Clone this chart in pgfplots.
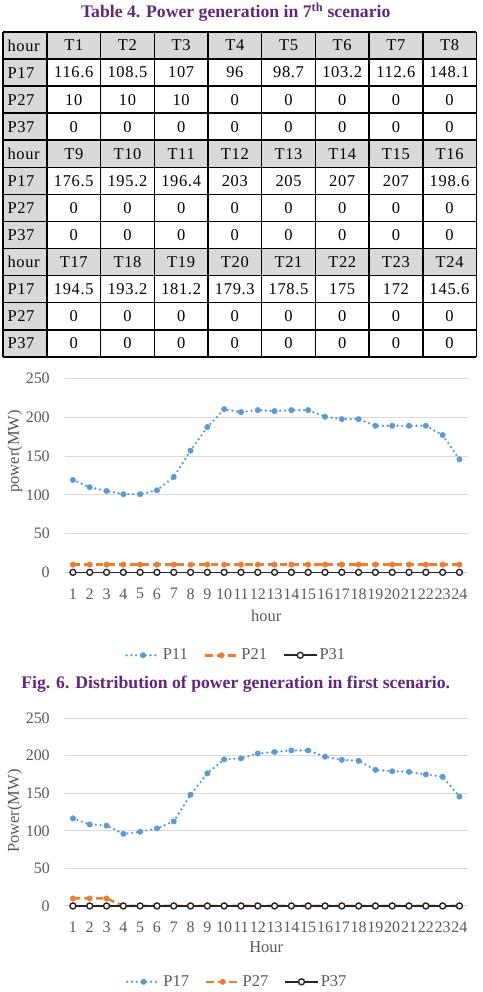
\documentclass[border=0pt]{standalone}
\usepackage{fontspec}
\setmainfont{Liberation Serif}
\newfontfamily\tabfont[LetterSpace=4]{Liberation Serif}
\usepackage{pgfplots}
\usepackage{pgfplotstable}
\pgfplotsset{compat=1.18}

\definecolor{xblue}{RGB}{91,155,213}
\definecolor{xorange}{RGB}{237,125,49}
\definecolor{xdark}{RGB}{38,38,38}
\definecolor{gridgray}{RGB}{217,217,217}
\definecolor{textgray}{RGB}{89,89,89}
\definecolor{tabgray}{RGB}{217,217,217}
\definecolor{capurple}{RGB}{96,40,122}

% hourly output, first scenario
\pgfplotstableread{
hour P11 P21 P31
1  119.2 10 0
2  109.8 10 0
3  105.0 10 0
4  100.8 10 0
5  100.8 10 0
6  105.9 10 0
7  123.0 10 0
8  157.0 10 0
9  187.4 10 0
10 210.5 10 0
11 206.7 10 0
12 209.3 10 0
13 208.0 10 0
14 209.3 10 0
15 209.3 10 0
16 200.7 10 0
17 197.7 10 0
18 197.7 10 0
19 189.1 10 0
20 189.1 10 0
21 189.1 10 0
22 189.1 10 0
23 177.1 10 0
24 145.8 10 0
}\sceneone

% hourly output, 7th scenario
\pgfplotstableread{
hour P17 P27 P37
1  116.6 10 0
2  108.5 10 0
3  107   10 0
4  96    0  0
5  98.7  0  0
6  103.2 0  0
7  112.6 0  0
8  148.1 0  0
9  176.5 0  0
10 195.2 0  0
11 196.4 0  0
12 203   0  0
13 205   0  0
14 207   0  0
15 207   0  0
16 198.6 0  0
17 194.5 0  0
18 193.2 0  0
19 181.2 0  0
20 179.3 0  0
21 178.5 0  0
22 175   0  0
23 172   0  0
24 145.6 0  0
}\sceneseven

\pgfplotsset{
  excel/.style={
    scale only axis, width=403.8pt,
    xmin=0.5, xmax=24.5, ymin=0, ymax=250,
    xtick={1,...,24}, ytick={0,50,...,250},
    axis line style={draw=none}, major tick length=0pt,
    ymajorgrids, grid style={line width=1pt, gridgray},
    tick label style={font=\fontsize{16}{16}\selectfont, text=textgray, inner sep=0pt},
    /pgf/number format/assume math mode=true,
    yticklabel style={xshift=-14.6pt},
    xticklabel style={yshift=-16pt},
    label style={font=\fontsize{16.5}{17}\selectfont, text=textgray},
    clip=false,
    legend columns=3,
    legend style={draw=none, fill=none, font=\fontsize{16.5}{17}\selectfont,
      text=textgray, anchor=center,
      /tikz/every even column/.append style={column sep=14pt}},
    legend image code/.code={
      \draw[mark repeat=2,mark phase=2] plot coordinates {(0pt,0pt) (16.5pt,0pt) (33pt,0pt)};},
  },
  sblue/.style={xblue, line width=2.6pt, line cap=round, dash pattern=on 0pt off 4.8pt,
    mark=*, mark size=2.7pt, mark options={solid, fill=xblue, draw=xblue, line width=0.5pt}},
  sorange/.style={xorange, line width=2.6pt, dash pattern=on 7.5pt off 4pt,
    mark=*, mark size=2.7pt, mark options={solid, fill=xorange, draw=xorange, line width=0.5pt}},
  sdark/.style={xdark, line width=1.6pt, mark=*, mark size=3pt,
    mark options={solid, fill=white, draw=xdark, line width=1.4pt}},
}

\begin{document}
\begin{tikzpicture}
\begin{scope}[x=1pt, y=-1pt]
  \path[use as bounding box] (0,0) rectangle (483,992);
  \node[font=\fontsize{17.7}{20}\selectfont\bfseries, text=capurple] at (236,12)
    {Table 4. Power generation in 7\textsuperscript{th} scenario};

  % shaded header rows and name column
  \foreach \b in {0,1,2}{
    \pgfmathsetmacro\ya{32+27.1*4*\b}
    \pgfmathsetmacro\yb{\ya+27.1}
    \pgfmathsetmacro\yc{\ya+4*27.1}
    \fill[tabgray] (3,\ya) rectangle (477,\yb);
    \fill[tabgray] (3,\yb) rectangle (47,\yc);
  }
  % grid of the table
  \foreach \k in {0,...,12}{
    \pgfmathsetmacro\yy{32+27.1*\k}
    \draw[line width=1.6pt] (3,\yy) -- (477,\yy);
  }
  \draw[line width=1.6pt] (3,32) -- (3,357.2);
  \foreach \j in {0,...,8}{
    \pgfmathsetmacro\xx{47+53.75*\j}
    \draw[line width=1.6pt] (\xx,32) -- (\xx,357.2);
  }
  % cell texts
  \foreach \b in {0,1,2}{
    \pgfmathsetmacro\ya{32+27.1*(4*\b+0.5)}
    \pgfmathsetmacro\yb{\ya+27.1}
    \pgfmathsetmacro\yc{\ya+2*27.1}
    \pgfmathsetmacro\yd{\ya+3*27.1}
    \node[anchor=west, font=\tabfont\fontsize{16.5}{17}\selectfont] at (4,\ya) {hour};
    \node[anchor=west, font=\tabfont\fontsize{16.5}{17}\selectfont] at (4,\yb) {P17};
    \node[anchor=west, font=\tabfont\fontsize{16.5}{17}\selectfont] at (4,\yc) {P27};
    \node[anchor=west, font=\tabfont\fontsize{16.5}{17}\selectfont] at (4,\yd) {P37};
    \foreach \c in {1,...,8}{
      \pgfmathtruncatemacro\r{8*\b+\c-1}
      \pgfmathtruncatemacro\hr{\r+1}
      \pgfmathsetmacro\xc{47+53.75*(\c-0.5)}
      \node[font=\tabfont\fontsize{16.5}{17}\selectfont] at (\xc,\ya) {T\hr};
      \pgfplotstablegetelem{\r}{P17}\of\sceneseven
      \node[font=\tabfont\fontsize{16.5}{17}\selectfont] at (\xc,\yb) {\pgfplotsretval};
      \pgfplotstablegetelem{\r}{P27}\of\sceneseven
      \node[font=\tabfont\fontsize{16.5}{17}\selectfont] at (\xc,\yc) {\pgfplotsretval};
      \pgfplotstablegetelem{\r}{P37}\of\sceneseven
      \node[font=\tabfont\fontsize{16.5}{17}\selectfont] at (\xc,\yd) {\pgfplotsretval};
    }
  }

  \node[font=\fontsize{17.7}{20}\selectfont\bfseries, text=capurple] at (236,685)
    {Fig. 6. Distribution of power generation in first scenario.};
\end{scope}

% first scenario
\begin{axis}[excel, at={(64.6pt,-573pt)}, anchor=south west, height=194pt,
  xlabel={hour}, ylabel={power(MW)},
  xlabel style={at={(rel axis cs:0.5,0)}, anchor=center, yshift=-44pt},
  ylabel style={at={(rel axis cs:-0.1228,0.624)}, anchor=center},
  legend style={at={(rel axis cs:0.4257,-0.428)}}]
  \addplot[sblue]   table[x=hour, y=P11] {\sceneone};
  \addplot[sorange] table[x=hour, y=P21] {\sceneone};
  \addplot[sdark]   table[x=hour, y=P31] {\sceneone};
  \legend{P11, P21, P31}
\end{axis}

% 7th scenario
\begin{axis}[excel, at={(64.6pt,-907pt)}, anchor=south west, height=188pt,
  xlabel={Hour}, ylabel={Power(MW)},
  xlabel style={at={(rel axis cs:0.5,0)}, anchor=center, yshift=-41pt},
  ylabel style={at={(rel axis cs:-0.1228,0.505)}, anchor=center},
  legend style={at={(rel axis cs:0.428,-0.404)}}]
  \addplot[sblue]   table[x=hour, y=P17] {\sceneseven};
  \addplot[sorange] table[x=hour, y=P27] {\sceneseven};
  \addplot[sdark]   table[x=hour, y=P37] {\sceneseven};
  \legend{P17, P27, P37}
\end{axis}
\end{tikzpicture}
\end{document}
